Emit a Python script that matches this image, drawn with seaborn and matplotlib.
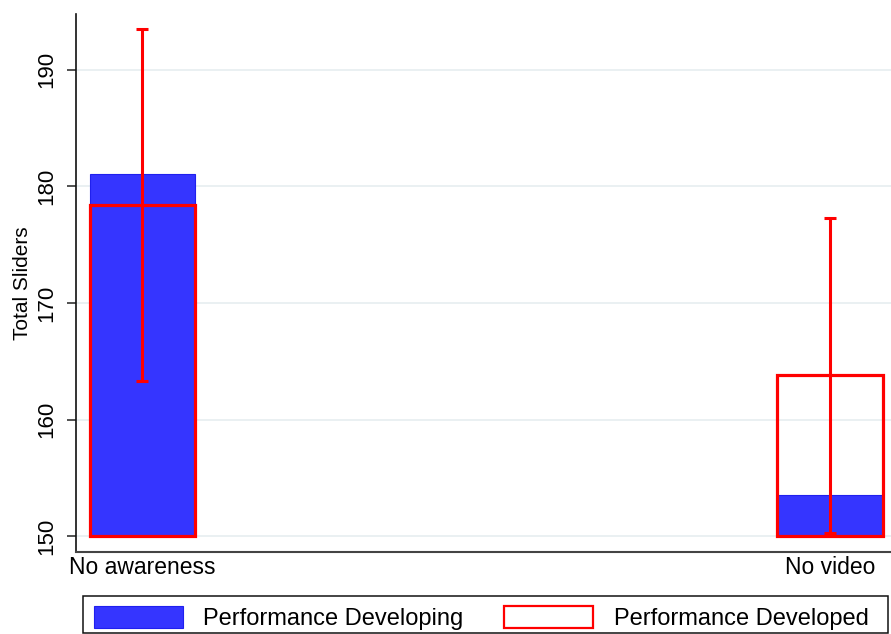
import matplotlib
matplotlib.use("Agg")
import matplotlib.pyplot as plt
import matplotlib.patches as mpatches
import numpy as np
import pandas as pd
import seaborn as sns

# Mean total sliders by treatment, two performance groups
categories = ["No awareness", "No video"]
developing = [181.1, 153.5]
developed = [178.4, 163.8]
# 95% CI for the "developed" group
developed_lo = [163.3, 150.3]
developed_hi = [193.5, 177.3]
y_ticks = [150, 160, 170, 180, 190]
base = 150

sns.set_theme(style="white", rc={
    "ytick.left": True,
    "ytick.major.size": 6.5,
    "ytick.major.width": 1.0,
    "ytick.color": "black",
    "xtick.color": "black",
    "text.color": "black",
    "axes.labelcolor": "black",
})
plt.rcParams["font.family"] = ["Liberation Sans", "DejaVu Sans"]

blue = "#3535ff"
red = "#ff0000"

df = pd.DataFrame({"group": categories,
                   "developing": developing,
                   "developed": developed})

W, H = 891, 634
fig = plt.figure(figsize=(W / 100, H / 100), dpi=100)
ax = fig.add_axes([76 / W, 1 - 552 / H, 1 - 76 / W, (552 - 14) / H])

bar_w = 0.1535
sns.barplot(data=df, x="group", y="developing", color=blue, saturation=1,
            width=bar_w, edgecolor="#2020ee", linewidth=0.8, ax=ax, zorder=2)
sns.barplot(data=df, x="group", y="developed", color=red, saturation=1,
            width=bar_w, fill=False, linewidth=2.3, ax=ax, zorder=3)

# bars rise from the axis base rather than from zero
for p in ax.patches:
    top = p.get_y() + p.get_height()
    p.set_y(base)
    p.set_height(top - base)

xpos = np.arange(len(categories))
mid = np.array(developed)
yerr = [mid - np.array(developed_lo), np.array(developed_hi) - mid]
ax.errorbar(xpos, mid, yerr=yerr, fmt="none", ecolor=red, elinewidth=2.2,
            capsize=4.3, capthick=2.2, zorder=4)

ax.set_xlim(-0.0967, 1.0887)
ax.set_ylim(148.63, 194.8)
ax.set_yticks(y_ticks)
ax.set_yticklabels([str(t) for t in y_ticks], rotation=90, va="center",
                   fontsize=16)
ax.tick_params(axis="y", which="major", left=True, length=6.5, width=1.2,
               color="#333333", pad=7, labelcolor="black")
ax.tick_params(axis="x", length=0, pad=3, labelsize=16.5, labelcolor="black")
ax.set_xlabel("")
ax.set_ylabel("Total Sliders", fontsize=15, labelpad=3, color="black")

ax.grid(axis="y", color="#e8eff1", linewidth=1.3)
ax.grid(axis="x", visible=False)
ax.set_axisbelow(True)

for side in ["top", "right"]:
    ax.spines[side].set_visible(False)
ax.spines["left"].set_color("#111111")
ax.spines["bottom"].set_color("#444444")
ax.spines["left"].set_linewidth(1.2)
ax.spines["bottom"].set_linewidth(1.5)

handles = [
    mpatches.Patch(facecolor=blue, edgecolor="#2020ee", linewidth=0.8,
                   label="Performance Developing"),
    mpatches.Patch(facecolor="white", edgecolor=red, linewidth=1.6,
                   label="Performance Developed"),
]
leg = fig.legend(handles=handles, loc="center", ncol=2,
                 bbox_to_anchor=(481 / W, 1 - 618 / H),
                 fontsize=17, frameon=False,
                 handlelength=3.8, handleheight=1.05, handletextpad=0.85,
                 columnspacing=1.7, borderpad=0.35, borderaxespad=0)
for t in leg.get_texts():
    t.set_color("black")

# legend box
fig.patches.append(mpatches.Rectangle(
    (83 / W, 1 - 633 / H), (888 - 83) / W, (633 - 596) / H,
    transform=fig.transFigure, facecolor="none", edgecolor="#111111",
    linewidth=1.1, zorder=1))

fig.savefig("out.png", dpi=100)
